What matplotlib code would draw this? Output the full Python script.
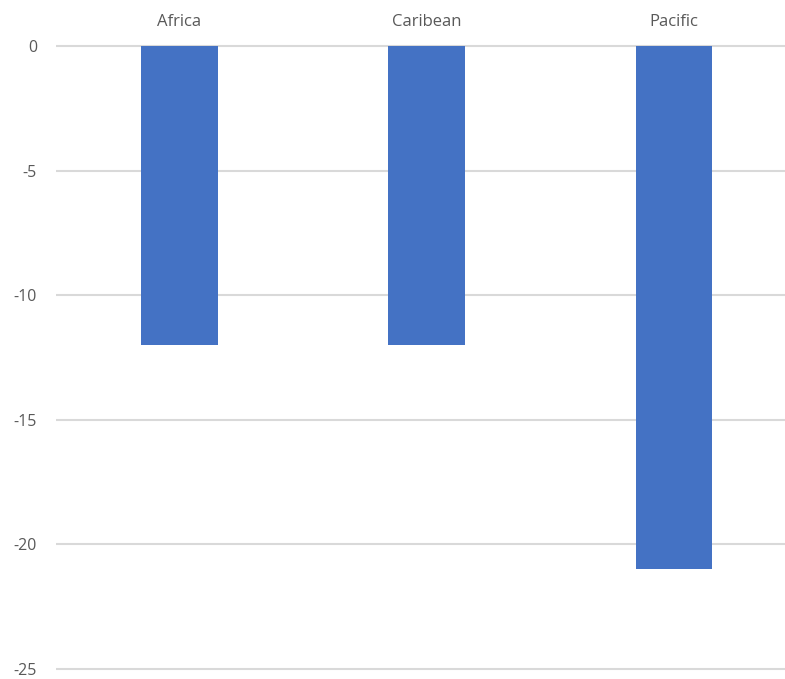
import matplotlib
matplotlib.use('Agg')
import matplotlib.pyplot as plt
import numpy as np

regions = ['Africa', 'Caribean', 'Pacific']
values = [-12, -12, -21]
yticks = [0, -5, -10, -15, -20, -25]

plt.rcParams['font.family'] = ['Open Sans', 'DejaVu Sans']

W, H = 785, 679
fig = plt.figure(figsize=(W/100, H/100), dpi=100)

# pixel geometry
px_unit = (669 - 46) / 25
top = 46 - 0.2*px_unit
bot = 669 + 0.2*px_unit
left = 55.75
width = 741.9
ax = fig.add_axes([left/W, 1 - bot/H, width/W, (bot - top)/H])

x = np.arange(len(regions))
ax.bar(x, values, width=0.311, color='#4472C4', zorder=3)
ax.set_xlim(-0.5, len(regions) - 0.5)
ax.set_ylim(-25.2, 0.2)

for t in yticks:
    ax.axhline(t, color='#d9d9d9', lw=1.5, zorder=1)

ax.set_yticks(yticks)
ax.set_yticklabels([str(t) for t in yticks])
ax.xaxis.tick_top()
ax.set_xticks(x)
ax.set_xticklabels(regions)
ax.tick_params(axis='x', length=0, pad=8, labelsize=12, labelcolor='#595959')
ax.tick_params(axis='y', length=0, pad=13.5, labelsize=11.5, labelcolor='#595959')
for s in ax.spines.values():
    s.set_visible(False)

fig.savefig('out.png', dpi=100)
